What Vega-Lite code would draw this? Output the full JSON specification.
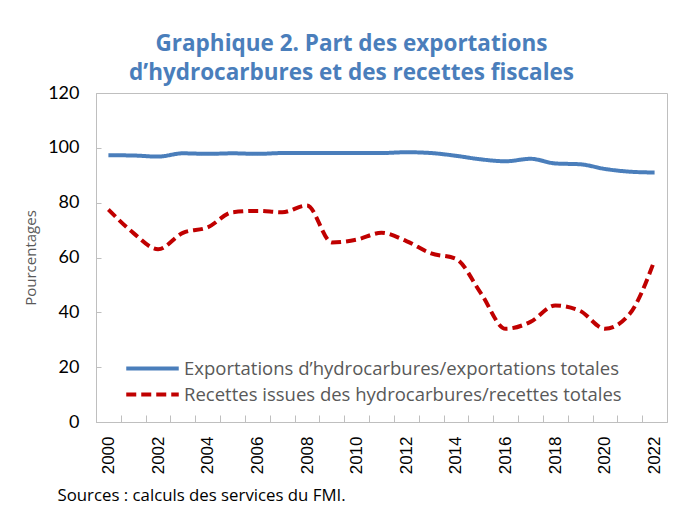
{
  "$schema": "https://vega.github.io/schema/vega-lite/v6.json",
  "autosize": "none",
  "width": 571,
  "height": 329,
  "padding": {"left": 96, "top": 93, "right": 15, "bottom": 95},
  "background": "white",
  "title": {
    "text": ["Graphique 2. Part des exportations", "d’hydrocarbures et des recettes fiscales"],
    "font": "Open Sans",
    "fontSize": 22.5,
    "fontWeight": "bold",
    "color": "#4A7EBB",
    "anchor": "middle",
    "dx": -30,
    "lineHeight": 29,
    "offset": 0
  },
  "config": {
    "view": {"stroke": "#BFBFBF", "strokeWidth": 1},
    "axis": {"grid": false, "domainColor": "#BFBFBF", "tickColor": "#BFBFBF"}
  },
  "data": {
    "values": [
      {"year": "2000", "series": "Exportations d’hydrocarbures/exportations totales", "value": 97.3},
      {"year": "2001", "series": "Exportations d’hydrocarbures/exportations totales", "value": 97.2},
      {"year": "2002", "series": "Exportations d’hydrocarbures/exportations totales", "value": 96.8},
      {"year": "2003", "series": "Exportations d’hydrocarbures/exportations totales", "value": 98.0},
      {"year": "2004", "series": "Exportations d’hydrocarbures/exportations totales", "value": 97.8},
      {"year": "2005", "series": "Exportations d’hydrocarbures/exportations totales", "value": 98.0},
      {"year": "2006", "series": "Exportations d’hydrocarbures/exportations totales", "value": 97.8},
      {"year": "2007", "series": "Exportations d’hydrocarbures/exportations totales", "value": 98.1},
      {"year": "2008", "series": "Exportations d’hydrocarbures/exportations totales", "value": 98.1},
      {"year": "2009", "series": "Exportations d’hydrocarbures/exportations totales", "value": 98.1},
      {"year": "2010", "series": "Exportations d’hydrocarbures/exportations totales", "value": 98.1},
      {"year": "2011", "series": "Exportations d’hydrocarbures/exportations totales", "value": 98.1},
      {"year": "2012", "series": "Exportations d’hydrocarbures/exportations totales", "value": 98.4},
      {"year": "2013", "series": "Exportations d’hydrocarbures/exportations totales", "value": 98.1},
      {"year": "2014", "series": "Exportations d’hydrocarbures/exportations totales", "value": 97.1},
      {"year": "2015", "series": "Exportations d’hydrocarbures/exportations totales", "value": 95.8},
      {"year": "2016", "series": "Exportations d’hydrocarbures/exportations totales", "value": 95.1},
      {"year": "2017", "series": "Exportations d’hydrocarbures/exportations totales", "value": 96.0},
      {"year": "2018", "series": "Exportations d’hydrocarbures/exportations totales", "value": 94.3},
      {"year": "2019", "series": "Exportations d’hydrocarbures/exportations totales", "value": 94.0},
      {"year": "2020", "series": "Exportations d’hydrocarbures/exportations totales", "value": 92.3},
      {"year": "2021", "series": "Exportations d’hydrocarbures/exportations totales", "value": 91.3},
      {"year": "2022", "series": "Exportations d’hydrocarbures/exportations totales", "value": 91.0},
      {"year": "2000", "series": "Recettes issues des hydrocarbures/recettes totales", "value": 77.5},
      {"year": "2001", "series": "Recettes issues des hydrocarbures/recettes totales", "value": 69.0},
      {"year": "2002", "series": "Recettes issues des hydrocarbures/recettes totales", "value": 63.0},
      {"year": "2003", "series": "Recettes issues des hydrocarbures/recettes totales", "value": 69.0},
      {"year": "2004", "series": "Recettes issues des hydrocarbures/recettes totales", "value": 71.0},
      {"year": "2005", "series": "Recettes issues des hydrocarbures/recettes totales", "value": 76.5},
      {"year": "2006", "series": "Recettes issues des hydrocarbures/recettes totales", "value": 77.0},
      {"year": "2007", "series": "Recettes issues des hydrocarbures/recettes totales", "value": 76.5},
      {"year": "2008", "series": "Recettes issues des hydrocarbures/recettes totales", "value": 79.0},
      {"year": "2009", "series": "Recettes issues des hydrocarbures/recettes totales", "value": 65.5},
      {"year": "2010", "series": "Recettes issues des hydrocarbures/recettes totales", "value": 66.5},
      {"year": "2011", "series": "Recettes issues des hydrocarbures/recettes totales", "value": 69.0},
      {"year": "2012", "series": "Recettes issues des hydrocarbures/recettes totales", "value": 66.0},
      {"year": "2013", "series": "Recettes issues des hydrocarbures/recettes totales", "value": 61.5},
      {"year": "2014", "series": "Recettes issues des hydrocarbures/recettes totales", "value": 59.5},
      {"year": "2015", "series": "Recettes issues des hydrocarbures/recettes totales", "value": 47.0},
      {"year": "2016", "series": "Recettes issues des hydrocarbures/recettes totales", "value": 34.0},
      {"year": "2017", "series": "Recettes issues des hydrocarbures/recettes totales", "value": 36.5},
      {"year": "2018", "series": "Recettes issues des hydrocarbures/recettes totales", "value": 42.5},
      {"year": "2019", "series": "Recettes issues des hydrocarbures/recettes totales", "value": 40.5},
      {"year": "2020", "series": "Recettes issues des hydrocarbures/recettes totales", "value": 34.0},
      {"year": "2021", "series": "Recettes issues des hydrocarbures/recettes totales", "value": 39.5},
      {"year": "2022", "series": "Recettes issues des hydrocarbures/recettes totales", "value": 59.0}
    ]
  },
  "mark": {"type": "line", "strokeWidth": 4, "interpolate": "monotone"},
  "encoding": {
    "x": {
      "field": "year",
      "type": "ordinal",
      "scale": {"type": "band", "paddingInner": 0, "paddingOuter": 0},
      "axis": {
        "title": "Sources : calculs des services du FMI.",
        "titleFont": "Open Sans",
        "titleFontSize": 16.8,
        "titleFontWeight": "normal",
        "titleColor": "#000000",
        "titleAnchor": "start",
        "titleAlign": "left",
        "titleBaseline": "middle",
        "titleX": -39,
        "titleY": 73,
        "labelAngle": 270,
        "labelAlign": "right",
        "labelBaseline": "middle",
        "labelFont": "Liberation Sans",
        "labelFontSize": 17,
        "labelColor": "#000000",
        "labelPadding": 21,
        "labelExpr": "toNumber(datum.value) % 2 == 0 ? datum.label : ''",
        "tickBand": "extent",
        "tickSize": -7,
        "domainColor": "#BFBFBF"
      }
    },
    "y": {
      "field": "value",
      "type": "quantitative",
      "scale": {"domain": [0, 120], "nice": false},
      "axis": {
        "values": [0, 20, 40, 60, 80, 100, 120],
        "title": "Pourcentages",
        "titleFont": "Open Sans",
        "titleFontSize": 15,
        "titleFontWeight": "normal",
        "titleColor": "#595959",
        "titleX": -58,
        "titleAnchor": "middle",
        "labelFont": "Lato",
        "labelFontSize": 18,
        "labelColor": "#000000",
        "labelPadding": 22,
        "tickSize": -5
      }
    },
    "color": {
      "field": "series",
      "type": "nominal",
      "scale": {
        "domain": ["Exportations d’hydrocarbures/exportations totales", "Recettes issues des hydrocarbures/recettes totales"],
        "range": ["#4A7EBB", "#C00000"]
      },
      "legend": {
        "orient": "none",
        "legendX": 44,
        "legendY": 263,
        "title": null,
        "symbolType": "M-2.5,0H2.5",
        "symbolSize": 441,
        "symbolStrokeWidth": 4,
        "labelFont": "Open Sans",
        "labelFontSize": 18.5,
        "labelColor": "#595959",
        "labelOffset": 19,
        "labelLimit": 600,
        "rowPadding": 4
      }
    },
    "strokeDash": {
      "field": "series",
      "type": "nominal",
      "scale": {
        "domain": ["Exportations d’hydrocarbures/exportations totales", "Recettes issues des hydrocarbures/recettes totales"],
        "range": [[1, 0], [10, 5]]
      },
      "legend": null
    }
  }
}
